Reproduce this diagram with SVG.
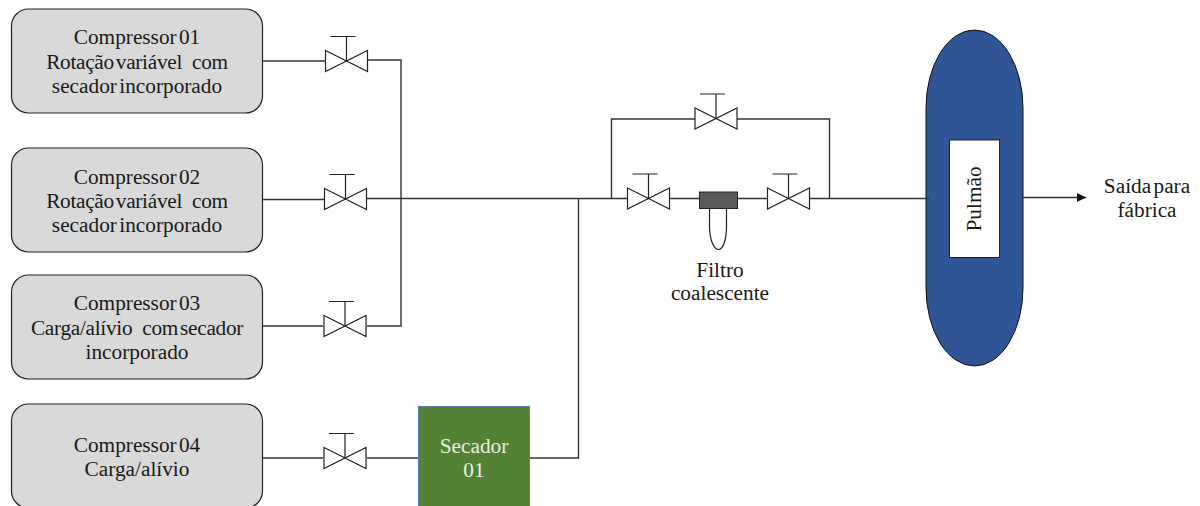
<svg xmlns="http://www.w3.org/2000/svg" width="1200" height="506" viewBox="0 0 1200 506">
<style>
text{font-family:"Liberation Serif","Times New Roman",serif;font-size:21.3px;fill:#1a1a1a;text-anchor:middle;word-spacing:-3px;white-space:pre}
.tight{letter-spacing:-.3px}
.gap{word-spacing:0}
.box{fill:#d9d9d9;stroke:#222;stroke-width:1.2}
.pipe{fill:none;stroke:#333;stroke-width:1.4}
.v{fill:#fff;stroke:#222;stroke-width:1.2}
.h{fill:none;stroke:#222;stroke-width:1.2}
</style>
<defs>
<g id="valve"><path class="v" d="M-21 -10.500L21 10.500V-10.500L-21 10.500Z"/><path class="h" d="M0 0V-24.500M-16 -24.500H9"/></g>
<marker id="arr" markerUnits="userSpaceOnUse" markerWidth="10" markerHeight="10" refX="9" refY="4.500" orient="auto"><path d="M0 0L9 4.500L0 9Z" fill="#111"/></marker>
</defs>
<g id="compressor01"><rect class="box" x="11.500" y="9" width="251" height="104" rx="17"/><text x="137" y="44">Compressor 01</text><text class="tight" x="137" y="69">Rotação variável<tspan class="gap">  </tspan>com</text><text x="137" y="93">secador incorporado</text></g>
<g id="compressor02"><rect class="box" x="11.500" y="148" width="251" height="104" rx="17"/><text x="137" y="184">Compressor 02</text><text class="tight" x="137" y="208">Rotação variável<tspan class="gap">  </tspan>com</text><text x="137" y="232">secador incorporado</text></g>
<g id="compressor03"><rect class="box" x="11.500" y="275" width="251" height="104" rx="17"/><text x="137" y="310">Compressor 03</text><text class="tight" x="137" y="335">Carga/alívio<tspan class="gap">  </tspan>com secador</text><text x="137" y="359">incorporado</text></g>
<g id="compressor04"><rect class="box" x="11.500" y="404" width="251" height="104" rx="17"/><text x="137" y="452">Compressor 04</text><text x="137" y="476">Carga/alívio</text></g>
<g id="secador01"><rect x="418.500" y="406.500" width="111" height="104" fill="#548235" stroke="#5b7fa8" stroke-width="1"/><text x="474" y="453" style="fill:#e8efe2">Secador</text><text x="474" y="477" style="fill:#e8efe2">01</text></g>
<g id="valve1"><use href="#valve" x="346.500" y="61"/></g>
<g id="valve2"><use href="#valve" x="345.500" y="199"/></g>
<g id="valve3"><use href="#valve" x="345" y="326"/></g>
<g id="valve4"><use href="#valve" x="345" y="458"/></g>
<g id="valve5"><use href="#valve" x="716" y="118.500"/></g>
<g id="valve6"><use href="#valve" x="648.500" y="198.500"/></g>
<g id="valve7"><use href="#valve" x="788.500" y="198.500"/></g>
<g id="filtro"><path d="M709.500 208.500V226C709.500 240 714 249.500 718.500 249.500S726.500 240 726.500 226V208.500" fill="#fff" stroke="#222" stroke-width="1.200"/><rect x="699.500" y="192" width="38" height="16.500" fill="#595959" stroke="#222" stroke-width="1"/><text x="720" y="277">Filtro</text><text x="720" y="300">coalescente</text></g>
<g id="pulmao"><rect x="926" y="30" width="97" height="336" rx="48.500" ry="78" fill="#2f5597" stroke="#111" stroke-width="1"/><rect x="949.500" y="140" width="50" height="117.500" fill="#fff" stroke="#222" stroke-width="1"/><text transform="translate(981 199) rotate(-90)">Pulmão</text></g>
<g id="saida"><text x="1147" y="193">Saída para</text><text x="1147" y="217">fábrica</text></g>
<g id="connectors">
<path class="pipe" d="M263 61H326M368 60H401V326H367M263 199.500H324M367 198.500H627.500M670 198.500H699.500M737.500 198.500H767.500M809.500 198.500H929M263 326H323M263 458H323M367 458H418M530 458H578.500V198.500M611.500 198.500V119H695M737 119H829.500V198.500"/>
<path class="pipe" d="M1023 197.500H1086" marker-end="url(#arr)"/>
</g>
</svg>
